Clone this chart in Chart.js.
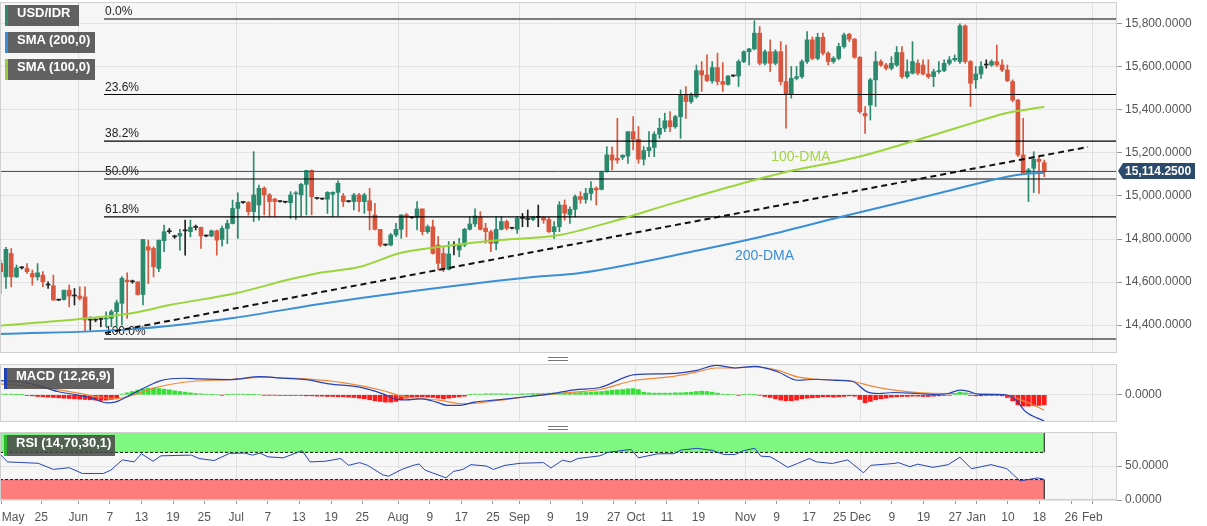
<!DOCTYPE html>
<html>
<head>
<meta charset="utf-8">
<script src="https://cdn.jsdelivr.net/npm/chart.js@4.4.0/dist/chart.umd.min.js"></script>
<style>
  html, body { margin: 0; padding: 0; background: #fff; width: 1207px; height: 526px; overflow: hidden; }
  .pane { position: absolute; left: 0; width: 1207px; }
  .tag { position: absolute; height: 21px; line-height: 23px; box-sizing: border-box; padding-left: 9px;
         background: rgba(72, 72, 72, 0.86); color: #fff; border-left: 3px solid; overflow: hidden;
         font: bold 13px Arial, "Liberation Sans", sans-serif; white-space: nowrap; }
  .grip { position: absolute; left: 548px; width: 20px; height: 2px; border-top: 1px solid #777; border-bottom: 1px solid #777; }
</style>
</head>
<body>
<div class="pane" style="top:0;height:355px"><canvas id="main-chart"></canvas></div>
<div class="pane" style="top:362px;height:62px"><canvas id="macd-chart"></canvas></div>
<div class="pane" style="top:430px;height:96px"><canvas id="rsi-chart"></canvas></div>

<div class="tag" style="left:5px;top:5px;width:74px;border-color:#2e8b6e">USD/IDR</div>
<div class="tag" style="left:5px;top:32px;width:90px;border-color:#3b8ed6">SMA (200,0)</div>
<div class="tag" style="left:5px;top:59px;width:90px;border-color:#9ccc3c">SMA (100,0)</div>
<div class="tag" style="left:4px;top:368px;width:110px;border-color:#1f3fb3">MACD (12,26,9)</div>
<div class="tag" style="left:4px;top:435px;width:111px;border-color:#2fb62f">RSI (14,70,30,1)</div>
<div class="grip" style="top:357px"></div>
<div class="grip" style="top:426px"></div>

<script>
// daily candles, bar index 0 = first bar on the left
const openVals = [
  14687,14624,14733,14624,14666,14663,14640,14624,14632,14586,
  14583,14516,14519,14562,14535,14535,14531,14423,14423,14426,
  14428,14431,14462,14501,14609,14601,14601,14542,14764,14756,
  14663,14792,14834,14810,14814,14838,14834,14854,14854,14814,
  14814,14838,14798,14849,14872,14942,14970,14970,14927,14958,
  15036,15005,14986,14974,14971,14969,15010,15005,15054,15118,
  14989,14986,14985,15008,15017,15000,14974,14974,15005,14974,
  14978,14912,14845,14772,14772,14819,14845,14912,14899,14899,
  14940,14834,14857,14772,14733,14659,14768,14749,14772,14845,
  14870,14901,14850,14834,14780,14845,14881,14850,14845,14896,
  14891,14891,14901,14901,14891,14834,14857,14958,14912,14938,
  14997,14984,15012,15036,15031,15113,15191,15175,15180,15186,
  15299,15264,15171,15211,15226,15287,15315,15350,15322,15369,
  15470,15439,15462,15583,15563,15535,15597,15532,15519,15558,
  15558,15625,15671,15684,15757,15617,15671,15617,15671,15532,
  15474,15547,15555,15625,15726,15640,15738,15664,15625,15640,
  15695,15752,15729,15645,15384,15423,15540,15625,15609,15594,
  15609,15667,15555,15571,15617,15609,15567,15555,15578,15583,
  15617,15633,15625,15791,15625,15540,15567,15609,15609,15625,
  15609,15586,15532,15446,15191,15106,15129,15171,15155
];
const highVals = [
  14702,14761,14756,14679,14672,14686,14656,14686,14648,14601,
  14632,14519,14562,14586,14570,14578,14578,14438,14430,14438,
  14462,14470,14516,14625,14643,14609,14601,14798,14795,14764,
  14795,14865,14849,14818,14845,14888,14888,14865,14856,14818,
  14842,14842,14860,14888,14981,15015,14974,14974,15206,15051,
  15043,15012,14989,14978,14974,15020,15020,15059,15120,15122,
  14992,14989,15020,15020,15071,15012,14978,15012,15012,15012,
  15036,14966,14845,14776,14826,14873,14912,14919,14902,14974,
  14940,14865,14888,14811,14764,14788,14788,14803,14850,14904,
  14940,14927,14873,14842,14904,14904,14888,14853,14904,14919,
  14935,14905,14958,14904,14901,14881,14974,14982,14950,15005,
  15020,15036,15067,15043,15116,15229,15229,15361,15192,15299,
  15369,15323,15230,15299,15299,15361,15385,15392,15375,15493,
  15509,15480,15609,15625,15656,15625,15664,15620,15560,15562,
  15633,15675,15687,15815,15788,15680,15726,15680,15718,15702,
  15602,15602,15633,15764,15740,15757,15757,15671,15648,15710,
  15757,15757,15733,15648,15416,15547,15671,15633,15617,15648,
  15695,15695,15633,15718,15633,15633,15633,15590,15625,15633,
  15648,15656,15800,15796,15630,15602,15625,15633,15633,15702,
  15633,15609,15540,15450,15361,15129,15206,15183,15167
];
const lowVals = [
  14547,14570,14578,14621,14660,14640,14586,14609,14578,14570,
  14516,14513,14516,14485,14493,14516,14369,14376,14415,14392,
  14392,14392,14392,14400,14431,14594,14539,14493,14593,14624,
  14648,14741,14826,14803,14748,14725,14810,14842,14756,14810,
  14810,14725,14767,14779,14870,14803,14966,14911,14881,14888,
  14912,14904,14904,14971,14968,14896,14891,14907,14912,14912,
  14985,14983,14919,14904,14907,14951,14971,14935,14927,14919,
  14842,14842,14764,14768,14768,14811,14803,14811,14896,14842,
  14819,14826,14730,14656,14648,14656,14726,14718,14764,14842,
  14857,14842,14780,14741,14749,14842,14842,14847,14826,14857,
  14857,14885,14857,14873,14830,14803,14834,14888,14873,14904,
  14966,14966,14981,14958,15028,15110,15121,15152,15170,15152,
  15214,15152,15144,15183,15183,15268,15299,15299,15315,15268,
  15361,15430,15455,15486,15532,15524,15516,15486,15515,15555,
  15509,15620,15609,15679,15609,15610,15578,15610,15516,15315,
  15455,15540,15547,15617,15633,15633,15656,15609,15617,15633,
  15687,15718,15640,15384,15291,15353,15416,15602,15586,15586,
  15602,15547,15547,15567,15563,15563,15547,15509,15571,15578,
  15609,15625,15617,15617,15416,15501,15547,15594,15602,15602,
  15578,15532,15438,15183,15106,14974,15016,15012,15090
];
const closeVals = [
  14648,14752,14624,14666,14666,14648,14624,14643,14601,14586,
  14516,14516,14562,14535,14535,14524,14423,14423,14423,14426,
  14431,14462,14504,14617,14601,14601,14542,14798,14748,14671,
  14795,14834,14834,14810,14826,14838,14854,14854,14814,14814,
  14838,14795,14849,14872,14942,14970,14970,14927,15005,15036,
  15005,14974,14974,14974,14971,15005,15012,15054,15118,14997,
  14989,14986,15017,15017,15059,14974,14974,15005,14974,15005,
  14932,14845,14772,14772,14819,14845,14912,14901,14899,14940,
  14834,14857,14733,14687,14664,14730,14768,14772,14845,14870,
  14907,14845,14834,14780,14845,14881,14850,14850,14896,14896,
  14891,14901,14901,14888,14834,14857,14958,14920,14938,14997,
  14984,15012,15036,15028,15113,15191,15167,15167,15189,15299,
  15264,15171,15211,15226,15287,15315,15350,15322,15369,15470,
  15439,15473,15583,15563,15537,15597,15532,15519,15558,15558,
  15625,15671,15684,15757,15617,15671,15617,15671,15532,15474,
  15547,15555,15625,15726,15640,15738,15664,15625,15640,15695,
  15749,15729,15645,15392,15372,15540,15625,15609,15594,15617,
  15667,15555,15578,15625,15571,15567,15555,15578,15583,15617,
  15633,15640,15791,15625,15524,15567,15602,15609,15625,15609,
  15586,15536,15446,15191,15106,15121,15171,15160,15114.25
];

// moving averages and trend line, read as (bar index, price)
const sma100X = [-0.13,15,25.1,32.1,44.8,54.3,60.6,68.2,75.8,83.4,94.7,106.1,115,127.6,140.3,149.8,159.3,165.5,178.2,184.5,190.9,198];
const sma100Y = [14397,14428,14456,14493,14549,14609,14643,14671,14735,14764,14795,14819,14874,14967,15056,15116,15163,15200,15293,15340,15386,15415];
const sma200X = [-0.13,25.1,44.1,60.6,75.8,101,109.9,132.7,144.1,159.3,178.2,192.8,198];
const sma200Y = [14358,14381,14433,14498,14550,14623,14642,14749,14809,14902,15014,15098,15108];
const trendX = [19.8, 206.3];
const trendY = [14363, 15228];

const fibLevels = [15823, 15472, 15255, 15079, 14903, 14335];
const fibNames = ['0.0%', '23.6%', '38.2%', '50.0%', '61.8%', '100.0%'];
const fibStart = 19.6;
const lastPrice = 15114.25;

const priceTicks = [14400, 14600, 14800, 15000, 15200, 15400, 15600, 15800];

// MACD pane
const macdX = [-0.13,4.2,7.1,10.8,14.4,17.3,20.2,21.7,23.8,27.5,30.4,34.7,37.6,43.4,49.3,53.6,58,62.3,68.1,72.5,74.7,76.8,79.8,82.7,84.8,87,89.9,94.3,100.1,104.4,108.8,113.7,120.3,126.9,132.1,135.7,139.4,143.1,147.5,151.2,154.8,157.8,161.5,164.4,166.6,169.5,173.9,177.6,179.8,182,183.5,185.7,190.1,192.3,194.5,198];
const macdY = [43,38,28,10,0,-10,-24,-22,-7,23,43,50,48,46,55,50,46,33,23,3,-12,-15,-12,-22,-32,-32,-22,-15,-5,3,15,22,61,64,74,89,81,86,69,44,47,44,41,9,4,7,4,1,4,14,11,1,1,-11,-51,-79];
const signalX = [-0.13,7.1,14.4,18.8,21.7,25.3,28.9,34.7,43.4,50.7,58,65.2,72.5,76.1,83.4,87.7,94.3,101.5,108.8,113.7,120.3,126.9,132.1,135.7,139.4,143.1,147.5,151.2,154.8,161.5,165.1,169.5,173.9,179.8,184.2,190.1,194.5,198];
const signalY = [33,23,6,-7,-12,0,20,38,46,53,48,36,13,-4,-17,-27,-17,-2,8,16,44,54,69,81,81,84,74,54,47,41,27,14,7,4,4,1,-21,-46];
const histVals = [
  2,2,2,1,1,
  -2,-3,-5,-6,-7,-8,-9,-10,-11,-12,-13,-14,-15,-16,-17,-16,-14,-10,
  2,6,10,14,18,20,20,19,17,15,12,10,8,6,4,3,2,
  1,0,-1,1,2,2,2,1,1,0,-1,-1,-1,
  -2,-2,-2,-2,-2,
  -3,-3,-4,-4,-5,-5,-6,-6,-7,-8,-10,-12,-15,-18,-20,-22,-22,-20,-15,
  -10,-8,-6,-6,-7,-8,-10,-12,-10,-8,-6,-4,
  1,2,2,3,3,3,3,3,2,2,3,3,4,4,4,5,5,5,6,6,6,7,7,8,9,
  10,12,14,15,16,18,19,16,
  8,6,5,5,5,5,6,6,7,8,10,11,10,8,5,2,
  1,0,-1,1,2,1,-1,
  -5,-8,-12,-16,-18,-18,-16,-12,-10,-9,-8,-6,-6,-7,-6,-5,-3,
  -4,-14,-24,-20,-15,-12,-10,-7,
  -6,-5,-5,-4,-4,-5,-5,-4,-3,-2,-1,
  4,8,6,
  -2,-3,-3,-2,-2,-2,-3,
  -8,-18,-30,-34,-34,-33,-32,-30
];

// RSI pane
const rsiX = [-0.13,1.3,7.1,10,13,15.5,19.5,20.9,23.1,25.3,26.7,28.9,30.4,36.2,37.6,40.5,43.4,46.3,47.8,49.2,50.7,53.6,57.2,58.7,61.6,64.5,66,68.1,69.6,72.5,73.6,76.1,78.3,79.4,80.5,81.9,84.5,85.9,87.7,89.2,92.1,93.5,95.7,98.6,103,104.4,106.6,108.1,109.5,113.7,115.2,119.6,121,124.7,127.7,129.1,132.1,135,137.2,139.4,140.9,143.1,144.2,146,147.5,149.3,151.2,153.4,154.8,157.8,160.7,163.7,165.1,169.5,170.3,172.5,174,176.9,179.8,182,184.2,187.9,190.9,193.4,195.3,196.7,198];
const rsiY = [67.5,56,54,45,47.5,39,39,44,59,56,68,57,65,66,61,58,68.5,69,66,69,63.5,62,72.5,56,57,61,51,55,51,37,35,45,51,53,44,40,32.5,42,45,52,50,45,51,54,55,47,58.6,56,61,65,70,74.4,62,68,68,73.5,76,73,67,67,72.5,76,64.5,63.6,57,48,53.7,61,56,53.7,59,40,51,53.7,55,49,52.7,48,52,63,46,52,46,28,30.5,32.5,30.5];

// x axis labels (bar index positions)
const tickPos = [0.2,7.7,14.7,20.7,26.7,32.7,38.6,44.7,50.7,56.6,62.7,68.6,75.4,81.4,87.4,93.4,98.4,104.3,110.3,116.3,120.5,126.4,132.4,141.3,147.2,153.4,159.2,163.1,169.1,175.1,181.1,185.1,191.1,197.1,203.1,207.1,211.8];
const tickTxt = ['May','25','Jun','7','13','19','25','Jul','7','13','19','25','Aug','9','17','25','Sep','9','19','27','Oct','11','19','Nov','9','17','25','Dec','9','19','27','Jan','10','18','26','Feb',''];
const monthPos = [14.7,44.7,75.4,98.4,120.5,141.3,163.1,185.1,207.1];

const xMin = -0.13;
const xMax = 211.8;
const lastBar = closeVals.length - 1;

const UP = '#2b8a6e';
const DOWN = '#d9573e';
const FONT = 'Arial, "Liberation Sans", sans-serif';

Chart.defaults.font.family = FONT;
Chart.defaults.animation = false;

const pts = (xs, ys) => xs.map((x, i) => ({ x, y: ys[i] }));
const flat = (y, x0, x1) => [{ x: x0, y }, { x: x1, y }];
const fmt4 = (v) => v.toLocaleString('en-US', { minimumFractionDigits: 4, maximumFractionDigits: 4 });

function candleColor(i) {
  if (closeVals[i] > openVals[i]) return UP;
  if (closeVals[i] < openVals[i]) return DOWN;
  return '#222';
}

function xAxis(showLabels) {
  return {
    type: 'linear',
    min: xMin,
    max: xMax,
    offset: false,
    afterBuildTicks: (s) => { s.ticks = tickPos.map((v) => ({ value: v })); },
    afterFit: (s) => {
      s.paddingLeft = 0;
      s.paddingRight = 0;
      s.height = showLabels ? 26 : 0;
    },
    border: { display: false },
    grid: {
      offset: false,
      drawTicks: showLabels,
      tickLength: 4,
      color: (c) => (c.tick && monthPos.includes(c.tick.value) ? '#dedede' : 'rgba(0,0,0,0)'),
      tickColor: (c) => (c.tick && c.tick.value < 210 ? '#999' : 'rgba(0,0,0,0)')
    },
    ticks: {
      display: showLabels,
      autoSkip: false,
      maxRotation: 0,
      minRotation: 0,
      align: 'inner',
      padding: 6,
      color: '#555',
      font: { size: 12 },
      callback: (v, i) => tickTxt[i] || ''
    }
  };
}

function yAxis(min, max, ticks) {
  return {
    position: 'right',
    min,
    max,
    afterBuildTicks: (s) => { s.ticks = ticks.map((v) => ({ value: v })); },
    afterFit: (s) => {
      s.width = 90;
      s.paddingTop = 0;
      s.paddingBottom = 0;
    },
    border: { display: false },
    grid: { color: '#e3e3e3', tickColor: '#999', tickLength: 5 },
    ticks: { padding: 3, color: '#555', font: { size: 12 }, callback: (v) => fmt4(v) }
  };
}

const paneDeco = {
  id: 'paneDeco',
  beforeDraw(chart) {
    const { ctx, chartArea: a } = chart;
    ctx.save();
    ctx.fillStyle = '#f6f6f6';
    ctx.fillRect(a.left, a.top, a.right - a.left, a.bottom - a.top);
    ctx.restore();
  },
  afterDraw(chart) {
    const { ctx, chartArea: a } = chart;
    ctx.save();
    ctx.strokeStyle = '#cfcfcf';
    ctx.lineWidth = 1;
    ctx.strokeRect(a.left + 0.5, a.top + 0.5, a.right - a.left - 1, a.bottom - a.top - 1);
    ctx.restore();
  }
};

const mainText = {
  id: 'mainText',
  beforeDatasetsDraw(chart) {
    const { ctx } = chart;
    const sx = chart.scales.x;
    const sy = chart.scales.y;
    ctx.save();
    ctx.font = '12px ' + FONT;
    ctx.fillStyle = '#222';
    ctx.textBaseline = 'bottom';
    fibLevels.forEach((lvl, i) => {
      ctx.fillText(fibNames[i], sx.getPixelForValue(fibStart) + 1, sy.getPixelForValue(lvl) - 1);
    });
    ctx.restore();
  },
  afterDatasetsDraw(chart) {
    const { ctx } = chart;
    const sx = chart.scales.x;
    const sy = chart.scales.y;
    ctx.save();
    ctx.font = '14px ' + FONT;
    ctx.textBaseline = 'middle';
    ctx.fillStyle = '#a3d63a';
    ctx.fillText('100-DMA', sx.getPixelForValue(146.2), sy.getPixelForValue(15181));
    ctx.fillStyle = '#3a8fd6';
    ctx.fillText('200-DMA', sx.getPixelForValue(139.3), sy.getPixelForValue(14721));
    ctx.restore();
  },
  afterDraw(chart) {
    const { ctx, chartArea: a } = chart;
    const y = Math.round(chart.scales.y.getPixelForValue(lastPrice));
    ctx.save();
    ctx.fillStyle = '#2b4a6c';
    ctx.beginPath();
    ctx.moveTo(a.right + 1, y);
    ctx.lineTo(a.right + 6, y - 8);
    ctx.lineTo(a.right + 78, y - 8);
    ctx.lineTo(a.right + 78, y + 8);
    ctx.lineTo(a.right + 6, y + 8);
    ctx.closePath();
    ctx.fill();
    ctx.fillStyle = '#fff';
    ctx.font = 'bold 12px ' + FONT;
    ctx.textBaseline = 'middle';
    ctx.fillText(fmt4(lastPrice), a.right + 8, y + 1);
    ctx.restore();
  }
};

const barIdx = closeVals.map((_, i) => i);

function lineSet(data, color, width, extra) {
  return Object.assign({
    type: 'line', data, borderColor: color, borderWidth: width,
    pointRadius: 0, fill: false, tension: 0, order: 1
  }, extra || {});
}

// main price pane
const mainDatasets = [
  {
    type: 'bar',
    data: barIdx.map((i) => ({ x: i, y: [lowVals[i], highVals[i]] })),
    backgroundColor: barIdx.map(candleColor),
    barThickness: 1,
    grouped: false,
    order: 6
  },
  {
    type: 'bar',
    data: barIdx.map((i) => ({ x: i, y: [openVals[i], closeVals[i]] })),
    backgroundColor: barIdx.map(candleColor),
    barThickness: 4,
    minBarLength: 1,
    grouped: false,
    order: 5
  },
  lineSet(flat(lastPrice, xMin, xMax), '#2d4e72', 1, { order: 4 }),
  lineSet(pts(sma200X, sma200Y), '#3a8fd6', 2, { cubicInterpolationMode: 'monotone', order: 2 }),
  lineSet(pts(sma100X, sma100Y), '#9bd53b', 2, { cubicInterpolationMode: 'monotone', order: 2 }),
  lineSet(pts(trendX, trendY), '#111', 2, { borderDash: [6, 4], order: 1 })
];
fibLevels.forEach((lvl) => {
  mainDatasets.push(lineSet(flat(lvl, fibStart, xMax), '#000', 1.2, { order: 3 }));
});

new Chart(document.getElementById('main-chart'), {
  type: 'line',
  data: { datasets: mainDatasets },
  options: {
    responsive: true,
    maintainAspectRatio: false,
    events: [],
    layout: { padding: { top: 2, bottom: 2, left: 0, right: 0 } },
    plugins: { legend: { display: false }, tooltip: { enabled: false } },
    scales: { x: xAxis(false), y: yAxis(14270, 15902, priceTicks) }
  },
  plugins: [paneDeco, mainText]
});

// MACD pane
new Chart(document.getElementById('macd-chart'), {
  type: 'line',
  data: {
    datasets: [
      {
        type: 'bar',
        data: barIdx.map((i) => ({ x: i, y: histVals[i] })),
        backgroundColor: histVals.map((v) => (v >= 0 ? '#33e033' : '#ff1a1a')),
        barThickness: 4,
        grouped: false,
        order: 5
      },
      lineSet(pts(signalX, signalY), '#f0883a', 1.2, { cubicInterpolationMode: 'monotone', order: 2 }),
      lineSet(pts(macdX, macdY), '#2442b5', 1.2, { cubicInterpolationMode: 'monotone', order: 1 })
    ]
  },
  options: {
    responsive: true,
    maintainAspectRatio: false,
    events: [],
    layout: { padding: { top: 2, bottom: 2, left: 0, right: 0 } },
    plugins: { legend: { display: false }, tooltip: { enabled: false } },
    scales: { x: xAxis(false), y: yAxis(-82, 93, [0]) }
  },
  plugins: [paneDeco]
});

// RSI pane
new Chart(document.getElementById('rsi-chart'), {
  type: 'line',
  data: {
    datasets: [
      lineSet(flat(100, xMin, lastBar), 'rgba(0,0,0,0)', 0, { fill: { value: 70 }, backgroundColor: '#7ef87e', order: 6 }),
      lineSet(flat(30, xMin, lastBar), 'rgba(0,0,0,0)', 0, { fill: { value: 0 }, backgroundColor: '#fd7c7c', order: 6 }),
      lineSet(flat(70, xMin, lastBar), '#111', 1, { borderDash: [3, 2], order: 3 }),
      lineSet(flat(30, xMin, lastBar), '#111', 1, { borderDash: [3, 2], order: 3 }),
      lineSet([{ x: lastBar, y: 70 }, { x: lastBar, y: 100 }], '#111', 1, { order: 3 }),
      lineSet([{ x: lastBar, y: 0 }, { x: lastBar, y: 30 }], '#111', 1, { order: 3 }),
      lineSet(pts(rsiX, rsiY), '#2646b4', 1, { order: 1 })
    ]
  },
  options: {
    responsive: true,
    maintainAspectRatio: false,
    events: [],
    layout: { padding: { top: 2, bottom: 0, left: 0, right: 0 } },
    plugins: { legend: { display: false }, tooltip: { enabled: false } },
    scales: { x: xAxis(true), y: yAxis(0, 100, [0, 50]) }
  },
  plugins: [paneDeco]
});
</script>
</body>
</html>
